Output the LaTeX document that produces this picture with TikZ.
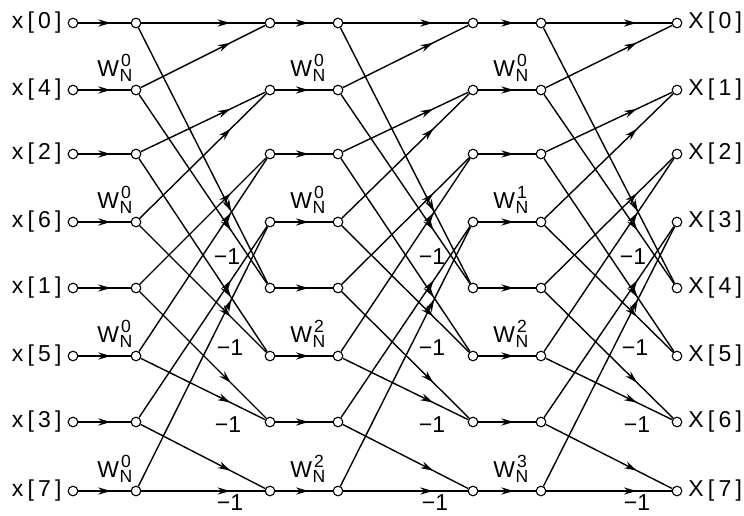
\documentclass[tikz,border=0pt]{standalone}
\usepackage{fontspec}
\setmainfont{Liberation Sans}
\usetikzlibrary{arrows.meta,decorations.markings}
\newcommand{\sqlbl}[2]{#1\kern2.1pt[\kern2.1pt#2\kern2.1pt]}
\newcommand{\twf}[1]{W\kern0.3pt{\fontsize{8.8}{8.8}\selectfont\ooalign{\hfil\raisebox{5pt}{#1}\hfil\cr\hfil\raisebox{-2.5pt}{N}\hfil\cr}}}
\begin{document}
\begin{tikzpicture}[x=0.5pt,y=-0.5pt,font=\fontsize{11.5}{12}\selectfont,
  dot/.style={circle,draw,fill=white,inner sep=0pt,minimum size=4.8pt,line width=0.55pt},
  flow/.style={line width=0.7pt,postaction={decorate},
    decoration={markings,mark=at position #1 with {\arrow{Stealth[length=6.3pt,width=3.6pt]}}}},
  flow/.default=0.72,
  tw/.style={anchor=base west,inner sep=0pt},
  neg/.style={inner sep=0pt}]
\useasboundingbox (0,0) rectangle (744,515);
% nodes
\foreach \c/\x in {0/73,1/136,2/270,3/338,4/473,5/541,6/677}
  \foreach \r/\y in {0/23,1/90,2/154,3/222,4/288,5/356,6/422,7/491}
    \node[dot] (n\c\r) at (\x,\y) {};
% input / output labels
\foreach \r/\i in {0/0,1/4,2/2,3/6,4/1,5/5,6/3,7/7}
  \node[anchor=east,inner sep=0pt] (in\r) at ([xshift=-5.5pt]n0\r.center) {\sqlbl{x}{\i}};
\foreach \r in {0,...,7}
  \node[anchor=west,inner sep=0pt] (out\r) at ([xshift=5.5pt]n6\r.center) {\sqlbl{X}{\r}};
% twiddle (horizontal) edges
\foreach \r in {0,...,7} {
  \draw[flow=0.62] (n0\r) -- (n1\r);
  \draw[flow=0.58] (n2\r) -- (n3\r);
  \draw[flow=0.62] (n4\r) -- (n5\r);
}
% butterfly stages
\foreach \s in {1,3,5} {
  \pgfmathtruncatemacro\t{\s+1}
  \foreach \k in {0,...,3} {
    \pgfmathtruncatemacro\a{2*\k}
    \pgfmathtruncatemacro\b{2*\k+1}
    \pgfmathtruncatemacro\h{\k+4}
    \draw[flow] (n\s\a) -- (n\t\k);
    \draw[flow] (n\s\a) -- (n\t\h);
    \draw[flow] (n\s\b) -- (n\t\k);
    \draw[flow] (n\s\b) -- (n\t\h);
  }
}
% twiddle labels
\foreach \y/\e in {76/0,208/0,342/0,477/0}
  \node[tw] (wa\y) at (97,\y) {\twf{\e}};
\foreach \y/\e in {76/0,208/0,342/2,477/2}
  \node[tw] (wb\y) at (290,\y) {\twf{\e}};
\foreach \y/\e in {76/0,208/1,342/2,477/3}
  \node[tw] (wc\y) at (493,\y) {\twf{\e}};
% -1 labels
\foreach \x/\y [count=\i] in {227/257,230/348,228/425,230/503,432/257,432/348,432/425,435/503,633/257,635/348,637/425,637/503}
  \node[neg] (m\i) at (\x,\y) {−1};
\end{tikzpicture}
\end{document}
